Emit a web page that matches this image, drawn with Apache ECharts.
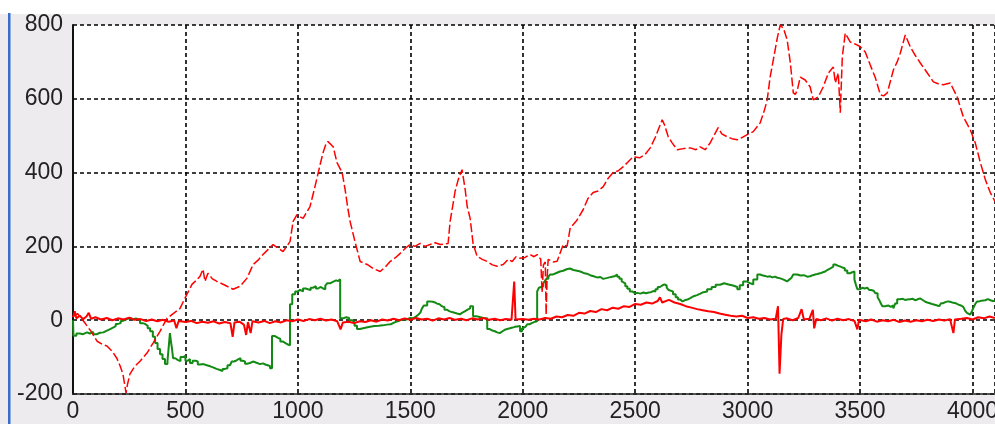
<!DOCTYPE html>
<html>
<head>
<meta charset="utf-8">
<script src="https://cdn.jsdelivr.net/npm/echarts@6/dist/echarts.min.js"></script>
<style>
  html, body { margin: 0; padding: 0; background: #EEEBEF; }
  #chart { width: 995px; height: 424px; }
</style>
</head>
<body>
<div id="chart"></div>
<script>
// Axis ranges and tick spacing
const xRange = [0, 4100];
const xStep = 500;
const yRange = [-200, 800];
const yStep = 200;

// Trend signal (dashed red), [sample, value]
const trendSeries = [
  [0, 10], [20, 18], [50, -5], [80, -30], [107, -57], [130, -65], [151, -70], [175, -85],
  [195, -103], [210, -125], [222, -146], [230, -175], [236, -197], [242, -175], [253, -146],
  [275, -125], [298, -111], [329, -89], [356, -62], [387, -30], [418, 5], [450, 20], [476, 32],
  [498, 60], [515, 80], [529, 97], [548, 108], [565, 119], [578, 138], [587, 105], [600, 127],
  [620, 112], [640, 105], [665, 98], [685, 92], [712, 84], [743, 92], [774, 114], [801, 151],
  [822, 162], [845, 178], [868, 192], [890, 205], [912, 195], [934, 186], [950, 200], [965, 213],
  [979, 268], [996, 286], [1010, 280], [1023, 276], [1054, 308], [1076, 362], [1099, 422],
  [1112, 454], [1125, 478], [1134, 484], [1157, 470], [1174, 427], [1197, 400], [1210, 354],
  [1223, 300], [1232, 268], [1254, 213], [1277, 159], [1308, 151], [1335, 140], [1366, 132],
  [1390, 145], [1410, 159], [1435, 170], [1455, 181], [1478, 195], [1499, 205], [1520, 200],
  [1544, 208], [1565, 200], [1588, 205], [1610, 210], [1633, 205], [1668, 208], [1677, 268],
  [1686, 300], [1699, 349], [1713, 381], [1730, 408], [1744, 354], [1753, 308], [1766, 276],
  [1779, 208], [1797, 173], [1820, 165], [1842, 159], [1865, 150], [1886, 146], [1913, 151],
  [1935, 165], [1953, 159], [1970, 172], [1988, 168], [2010, 170], [2033, 178], [2050, 172],
  [2064, 178], [2080, 165], [2086, 75], [2092, 150], [2100, 158], [2104, 15], [2108, 110],
  [2113, 165], [2135, 158], [2153, 160], [2180, 205], [2197, 200], [2211, 250], [2240, 270],
  [2269, 300], [2290, 330], [2313, 346], [2335, 350], [2358, 362], [2380, 385], [2402, 400],
  [2425, 405], [2447, 416], [2470, 430], [2491, 443], [2520, 440], [2544, 449], [2567, 467],
  [2589, 495], [2605, 520], [2620, 543], [2630, 530], [2647, 497], [2665, 480], [2687, 462],
  [2715, 465], [2745, 467], [2770, 462], [2789, 470], [2811, 462], [2834, 481], [2850, 500],
  [2869, 522], [2885, 505], [2909, 497], [2930, 492], [2954, 489], [2975, 495], [2998, 503],
  [3025, 511], [3056, 535], [3075, 570], [3087, 597], [3100, 659], [3114, 705], [3132, 765],
  [3145, 800], [3160, 790], [3167, 795], [3176, 759], [3190, 697], [3203, 616], [3212, 612],
  [3221, 624], [3234, 659], [3256, 651], [3278, 632], [3292, 597], [3314, 605], [3336, 632],
  [3359, 670], [3381, 686], [3390, 643], [3403, 670], [3412, 562], [3421, 714], [3434, 778],
  [3456, 754], [3480, 748], [3501, 741], [3523, 727], [3545, 692], [3568, 657], [3590, 611],
  [3605, 608], [3621, 616], [3648, 678], [3665, 700], [3679, 724], [3701, 773], [3723, 741],
  [3745, 718], [3768, 697], [3799, 670], [3826, 646], [3850, 640], [3870, 638], [3901, 643],
  [3932, 605], [3959, 551], [3990, 516], [4012, 481], [4035, 427], [4057, 381], [4079, 346],
  [4100, 322]
];

// Residual signal (solid red), [sample, value]
const residualSeries = [
  [0, 8], [8, 24], [15, 5], [30, 12], [45, 3], [60, 10], [70, 20], [80, 4], [100, 8], [125, 2],
  [150, 6], [175, 0], [200, 5], [225, 2], [250, 7], [275, 1], [300, 3], [325, -2], [350, 2],
  [375, -3], [400, 1], [425, -4], [450, -1], [460, -22], [470, -2], [500, -5], [525, -2],
  [550, -8], [575, -4], [600, -7], [625, -3], [650, -9], [675, -5], [700, -8], [710, -45],
  [718, -6], [740, -4], [760, -12], [770, -40], [778, -5], [790, -35], [798, -3], [825, -6],
  [850, -2], [875, -8], [900, -3], [925, -6], [950, 0], [975, -3], [1000, 2], [1025, -2],
  [1050, 3], [1075, 0], [1100, 4], [1125, -1], [1150, 2], [1175, -3], [1190, -25], [1200, -6],
  [1225, -4], [1250, -8], [1275, -3], [1300, -5], [1325, 0], [1350, -4], [1375, 2], [1400, -1],
  [1425, 4], [1450, 0], [1475, 5], [1500, 1], [1525, 6], [1550, 2], [1575, 4], [1600, -1],
  [1625, 5], [1650, 2], [1675, 6], [1700, 1], [1725, 4], [1750, 0], [1775, 5], [1800, 2],
  [1825, 6], [1850, 1], [1875, 4], [1900, 0], [1925, 3], [1950, 1], [1962, 105], [1968, 2],
  [1975, 0], [2000, 3], [2025, 1], [2050, 4], [2075, 2], [2100, 6], [2125, 4], [2150, 10],
  [2175, 8], [2200, 14], [2225, 12], [2250, 20], [2275, 18], [2300, 25], [2325, 22], [2350, 30],
  [2375, 27], [2400, 34], [2425, 31], [2450, 38], [2475, 36], [2500, 44], [2525, 42], [2550, 48],
  [2575, 45], [2600, 52], [2610, 62], [2620, 48], [2650, 55], [2675, 48], [2700, 44], [2725, 38],
  [2750, 34], [2775, 30], [2800, 27], [2825, 24], [2850, 22], [2875, 18], [2900, 15], [2925, 12],
  [2950, 10], [2975, 12], [3000, 6], [3025, 8], [3050, 4], [3075, 6], [3100, 2], [3125, 4],
  [3135, 38], [3142, -145], [3150, -40], [3158, 3], [3175, 5], [3200, 0], [3225, 6], [3240, 30],
  [3250, 2], [3275, 4], [3290, 28], [3296, -22], [3305, 3], [3325, 0], [3350, 5], [3375, -1],
  [3400, 4], [3425, 0], [3450, 3], [3475, -2], [3488, -25], [3495, 1], [3525, -3], [3550, 2],
  [3575, -4], [3600, 0], [3625, -3], [3650, 1], [3675, -5], [3700, -1], [3725, -4], [3750, 0],
  [3775, -3], [3800, 1], [3825, -2], [3850, 2], [3875, -1], [3900, 3], [3915, -35], [3922, 2],
  [3950, 4], [3975, 6], [4000, 2], [4025, 8], [4050, 5], [4075, 10], [4100, 6]
];

// Offset signal (solid green), [sample, value]
const offsetSeries = [
  [0, 0], [2, -42], [15, -36], [30, -38], [45, -33], [62, -36], [75, -32], [90, -38], [105, -34],
  [120, -33], [135, -28], [151, -24], [165, -20], [178, -16], [190, -10], [200, -8], [212, -2],
  [222, 3], [240, 6], [255, 2], [267, 5], [280, 0], [298, -8], [310, -10], [320, -15], [332, -22],
  [343, -30], [355, -45], [365, -62], [376, -78], [387, -92], [398, -105], [409, -119], [420, -112],
  [428, -108], [431, -35], [436, -60], [440, -76], [445, -103], [455, -108], [467, -111], [478, -100],
  [489, -97], [500, -110], [510, -105], [520, -116], [532, -110], [545, -112], [555, -120], [565, -119],
  [580, -122], [595, -125], [610, -128], [623, -132], [638, -135], [654, -138], [665, -132], [675, -130],
  [687, -122], [698, -119], [706, -112], [715, -110], [725, -106], [734, -103], [745, -110], [755, -112],
  [765, -118], [774, -116], [787, -112], [800, -114], [810, -118], [818, -119], [832, -117], [845, -120],
  [855, -122], [863, -124], [876, -130], [885, -43], [898, -48], [912, -51], [922, -58], [934, -62],
  [945, -66], [956, -70], [960, -68], [965, 43], [975, 70], [988, 78], [1000, 82], [1010, 78],
  [1023, 86], [1035, 84], [1045, 82], [1057, 88], [1068, 92], [1080, 86], [1090, 90], [1100, 86],
  [1112, 84], [1122, 94], [1130, 100], [1143, 105], [1160, 108], [1170, 106], [1179, 111], [1188, 5],
  [1200, 8], [1215, 6], [1228, 0], [1240, -5], [1252, -15], [1263, -24], [1276, -22], [1290, -20],
  [1305, -18], [1321, -16], [1340, -15], [1360, -14], [1378, -12], [1397, -11], [1413, -6], [1430, -3],
  [1443, 0], [1455, 3], [1470, 2], [1485, 6], [1499, 5], [1512, 10], [1525, 15], [1535, 20],
  [1544, 24], [1552, 32], [1560, 40], [1575, 51], [1587, 50], [1600, 48], [1610, 45], [1619, 43],
  [1630, 38], [1640, 35], [1652, 28], [1664, 24], [1675, 22], [1685, 20], [1697, 18], [1708, 16],
  [1720, 20], [1730, 24], [1742, 28], [1753, 32], [1766, 38], [1779, 11], [1790, 10], [1800, 8],
  [1812, 6], [1824, 5], [1842, -24], [1853, -28], [1865, -30], [1876, -33], [1886, -35], [1898, -30],
  [1910, -26], [1920, -24], [1931, -22], [1943, -20], [1955, -18], [1965, -17], [1975, -16], [1988, -30],
  [1997, -22], [2005, -18], [2012, -14], [2020, -11], [2030, -8], [2040, -6], [2048, -4], [2055, -3],
  [2064, 78], [2072, 88], [2080, 92], [2091, 100], [2098, 106], [2105, 112], [2114, 118], [2122, 124],
  [2135, 128], [2150, 132], [2165, 134], [2180, 138], [2195, 140], [2210, 136], [2225, 134], [2242, 132],
  [2256, 128], [2270, 126], [2285, 122], [2300, 119], [2315, 116], [2330, 117], [2345, 112], [2358, 114],
  [2372, 116], [2385, 118], [2398, 120], [2411, 124], [2420, 118], [2430, 112], [2440, 105], [2447, 100],
  [2456, 92], [2465, 85], [2476, 78], [2487, 73], [2498, 74], [2510, 72], [2523, 75], [2536, 73],
  [2548, 75], [2560, 76], [2570, 79], [2580, 78], [2590, 84], [2600, 90], [2610, 94], [2620, 97],
  [2630, 94], [2640, 88], [2648, 82], [2656, 78], [2668, 70], [2680, 62], [2690, 56], [2700, 51],
  [2710, 54], [2720, 56], [2732, 60], [2745, 65], [2760, 68], [2775, 72], [2790, 76], [2803, 78],
  [2820, 84], [2840, 90], [2858, 96], [2878, 100], [2895, 97], [2915, 94], [2935, 90], [2954, 84],
  [2965, 95], [2980, 105], [2995, 100], [3012, 97], [3025, 110], [3043, 124], [3055, 122], [3065, 120],
  [3077, 118], [3087, 119], [3100, 116], [3110, 118], [3122, 115], [3132, 114], [3142, 112], [3150, 110],
  [3160, 106], [3167, 105], [3175, 110], [3185, 115], [3195, 120], [3203, 124], [3220, 121], [3235, 122],
  [3250, 118], [3265, 119], [3278, 122], [3290, 124], [3300, 125], [3310, 127], [3322, 130], [3335, 132],
  [3345, 136], [3354, 138], [3362, 141], [3370, 145], [3381, 151], [3390, 148], [3400, 146], [3410, 143],
  [3421, 141], [3432, 135], [3443, 127], [3455, 130], [3465, 132], [3475, 110], [3482, 95], [3488, 84],
  [3500, 88], [3510, 86], [3520, 88], [3532, 84], [3540, 82], [3550, 80], [3560, 77], [3568, 73],
  [3578, 62], [3585, 55], [3592, 46], [3599, 38], [3612, 40], [3625, 36], [3637, 40], [3648, 32],
  [3656, 45], [3665, 57], [3678, 58], [3690, 55], [3700, 56], [3710, 57], [3722, 58], [3735, 54],
  [3745, 56], [3754, 59], [3767, 54], [3780, 50], [3790, 48], [3799, 46], [3810, 44], [3820, 42],
  [3832, 40], [3843, 38], [3852, 42], [3860, 46], [3870, 49], [3879, 51], [3890, 50], [3900, 48],
  [3908, 47], [3915, 46], [3925, 43], [3935, 40], [3948, 36], [3959, 32], [3967, 26], [3975, 20],
  [3983, 15], [3990, 11], [3998, 25], [4005, 35], [4013, 45], [4021, 51], [4030, 53], [4040, 55],
  [4048, 54], [4057, 57], [4068, 54], [4080, 52], [4090, 53], [4100, 51]
];

const chart = echarts.init(document.getElementById('chart'), null, { renderer: 'canvas' });

const labelStyle = {
  color: '#222',
  fontSize: 23,
  fontFamily: '"Liberation Sans", Arial, sans-serif'
};
const gridDash = { color: '#000', width: 1.6, type: [4, 3] };

chart.setOption({
  animation: false,
  backgroundColor: '#EEEBEF',
  graphic: [
    { type: 'rect', left: 0, top: 0, shape: { width: 995, height: 14 }, style: { fill: '#ffffff' }, silent: true },
    { type: 'rect', left: 8, top: 13, shape: { width: 2, height: 411 }, style: { fill: '#3B6CC9' }, silent: true },
    { type: 'rect', left: 10, top: 13, shape: { width: 1, height: 411 }, style: { fill: '#8FAEE0' }, silent: true }
  ],
  grid: {
    left: 73, top: 25, right: 0, bottom: 30,
    containLabel: false, outerBoundsMode: 'none',
    show: true, backgroundColor: '#ffffff', borderWidth: 0
  },
  xAxis: {
    type: 'value',
    min: xRange[0], max: xRange[1], interval: xStep,
    axisLine: { show: true, onZero: false, lineStyle: { color: '#222', width: 1.5 } },
    axisTick: { show: false },
    axisLabel: { ...labelStyle, margin: 6, showMaxLabel: false, hideOverlap: false, formatter: v => String(v) },
    splitLine: { show: true, lineStyle: gridDash }
  },
  yAxis: {
    type: 'value',
    min: yRange[0], max: yRange[1], interval: yStep,
    axisLine: { show: true, onZero: false, lineStyle: { color: '#111', width: 2 } },
    axisTick: { show: false },
    axisLabel: { ...labelStyle, margin: 10, formatter: v => String(v) },
    splitLine: { show: true, lineStyle: gridDash }
  },
  series: [
    {
      name: 'offset', type: 'line', data: offsetSeries, step: 'end',
      showSymbol: false, symbol: 'none',
      lineStyle: { color: '#138A13', width: 2 }
    },
    {
      name: 'residual', type: 'line', data: residualSeries,
      showSymbol: false, symbol: 'none',
      lineStyle: { color: '#FF0000', width: 2 }
    },
    {
      name: 'trend', type: 'line', data: trendSeries,
      showSymbol: false, symbol: 'none',
      lineStyle: { color: '#FF0000', width: 1.5, type: [9, 3] }
    }
  ]
});
</script>
</body>
</html>
